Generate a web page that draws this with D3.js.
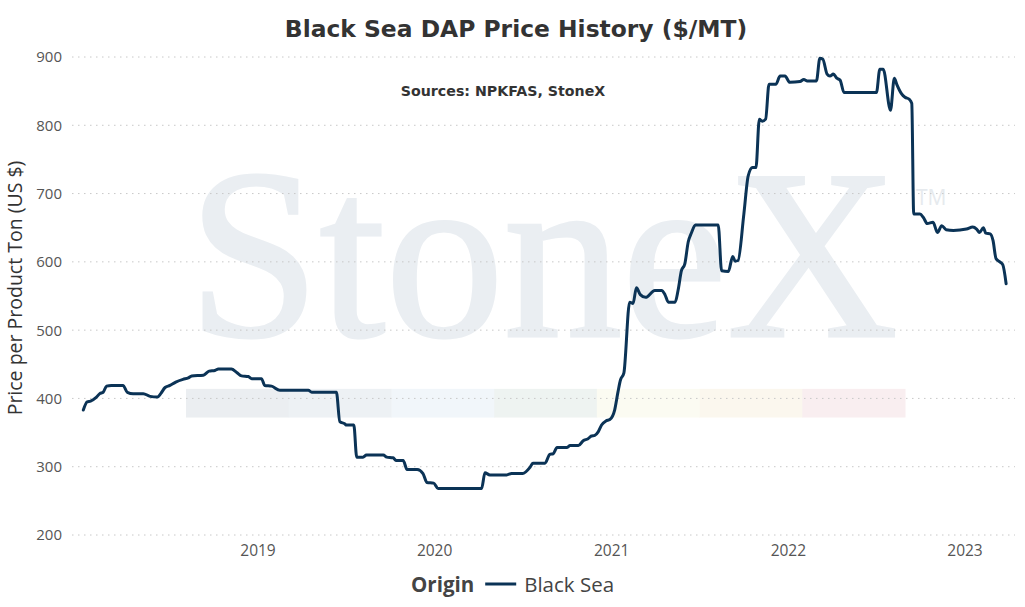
<!DOCTYPE html>
<html>
<head>
<meta charset="utf-8">
<script src="https://cdn.jsdelivr.net/npm/d3@7"></script>
<style>
  body { margin: 0; background: #fff; }
  svg { display: block; }
</style>
</head>
<body>
<svg id="chart" width="1025" height="607"></svg>
<script>
// weekly-ish Black Sea DAP prices
const dates = [
  '2018-01-05','2018-01-13','2018-01-20','2018-01-31','2018-02-08','2018-02-15','2018-02-22','2018-03-04',
  '2018-03-28','2018-04-06','2018-04-18','2018-05-09','2018-05-23','2018-06-07','2018-06-14','2018-06-23',
  '2018-07-03','2018-07-15','2018-07-30','2018-08-10','2018-08-17','2018-09-10','2018-09-22','2018-10-04',
  '2018-10-11','2018-11-07','2018-11-18','2018-11-28','2018-12-12','2018-12-19','2019-01-08','2019-01-15',
  '2019-01-29','2019-02-15','2019-04-15','2019-04-22','2019-06-12','2019-06-19','2019-06-29','2019-07-03',
  '2019-07-18','2019-07-24','2019-08-06','2019-08-13','2019-09-17','2019-09-24','2019-10-07','2019-10-14',
  '2019-10-28','2019-11-05','2019-11-26','2019-12-08','2019-12-16','2019-12-30','2020-01-08','2020-04-07',
  '2020-04-14','2020-04-24','2020-05-29','2020-06-08','2020-07-01','2020-07-16','2020-07-22','2020-08-16',
  '2020-08-26','2020-09-02','2020-09-10','2020-09-30','2020-10-07','2020-10-24','2020-11-03','2020-11-13',
  '2020-11-20','2020-11-27','2020-12-04','2020-12-11','2020-12-20','2020-12-28','2021-01-07','2021-01-14',
  '2021-01-19','2021-01-26','2021-02-07','2021-02-14','2021-02-21','2021-03-01','2021-03-12','2021-03-31',
  '2021-04-14','2021-04-21','2021-04-28','2021-05-12','2021-05-18','2021-05-25','2021-06-01','2021-06-08',
  '2021-06-15','2021-06-23','2021-08-09','2021-08-16','2021-08-30','2021-09-08','2021-09-13','2021-09-19',
  '2021-10-01','2021-10-10','2021-10-19','2021-10-26','2021-11-02','2021-11-08','2021-11-15','2021-11-22',
  '2021-12-06','2021-12-15','2021-12-25','2022-01-04','2022-01-25','2022-02-02','2022-02-09','2022-02-28',
  '2022-03-07','2022-03-13','2022-03-22','2022-03-28','2022-04-04','2022-04-11','2022-04-18','2022-04-26',
  '2022-07-02','2022-07-09','2022-07-16','2022-07-31','2022-08-08','2022-08-13','2022-08-23','2022-08-30',
  '2022-09-08','2022-09-13','2022-09-17','2022-09-30','2022-10-07','2022-10-15','2022-10-27','2022-11-05',
  '2022-11-14','2022-11-23','2022-12-08','2023-01-04','2023-01-17','2023-01-25','2023-01-31','2023-02-08',
  '2023-02-13','2023-02-22','2023-02-28','2023-03-06','2023-03-14','2023-03-20','2023-03-27'
];
const prices = [
  383, 395, 396, 401, 407, 409, 418, 419,
  419, 409, 407, 407, 403, 402, 407, 416,
  419, 424, 428, 430, 433, 434, 440, 441,
  443, 443, 438, 433, 432, 429, 429, 419,
  418, 412, 412, 409, 409, 366, 363, 361,
  361, 314, 314, 317, 317, 314, 313, 309,
  309, 296, 296, 290, 277, 276, 268, 268,
  291, 288, 288, 290, 290, 299, 305, 305,
  318, 319, 328, 328, 331, 331, 338, 341,
  345, 346, 351, 361, 367, 369, 383, 410,
  427, 437, 541, 539, 562, 552, 548, 558,
  558, 552, 541, 541, 558, 587, 597, 629,
  643, 654, 654, 587, 586, 608, 601, 602,
  670, 726, 738, 738, 809, 806, 809, 860,
  860, 872, 872, 863, 864, 867, 865, 865,
  898, 897, 875, 872, 875, 869, 866, 848,
  848, 882, 882, 822, 869, 860, 846, 841,
  838, 832, 670, 670, 665, 656, 658, 643,
  653, 647, 646, 648, 651, 648, 643, 650,
  642, 641, 631, 605, 600, 596, 568
];
const yTicks = [200, 300, 400, 500, 600, 700, 800, 900];
const xTickYears = [2019, 2020, 2021, 2022, 2023];
const seriesName = 'Black Sea';
const legendTitle = 'Origin';
const titleText = 'Black Sea DAP Price History ($/MT)';
const sourceText = 'Sources: NPKFAS, StoneX';
const yTitle = 'Price per Product Ton (US $)';
// faint logo colour bar behind the plot
const bandColors = ['#ebeef1', '#edf1f4', '#f1f6fa', '#eef3f1', '#fbfbf2', '#fbf7ee', '#f9eef0'];

const svg = d3.select('#chart');
const plot = { left: 72, right: 1015 };
const lineColor = '#0b3356';
const font = '"Open Sans", sans-serif';
const boldFont = '"DejaVu Sans", Verdana, sans-serif';

const x = d3.scaleUtc()
  .domain([new Date(Date.UTC(2019, 0, 1)), new Date(Date.UTC(2023, 0, 1))])
  .range([258, 965]);
const y = d3.scaleLinear().domain([200, 900]).range([535, 57]);

const data = dates.map((d, i) => ({ date: new Date(d + 'T00:00:00Z'), value: prices[i] }));

// watermark
const wm = svg.append('g').attr('class', 'watermark');
wm.append('text')
  .attr('x', 188).attr('y', 336)
  .attr('textLength', 710).attr('lengthAdjust', 'spacingAndGlyphs')
  .style('font-family', '"Liberation Serif", "DejaVu Serif", serif')
  .style('font-size', '242px')
  .style('fill', '#eaeef2')
  .style('stroke', '#eaeef2').style('stroke-width', 3)
  .text('StoneX');
wm.append('text')
  .attr('x', 916).attr('y', 205)
  .style('font-family', font).style('font-size', '21px')
  .style('fill', '#e6eaee')
  .text('TM');

const bandX = d3.scaleLinear().domain([0, bandColors.length]).range([186, 905]);
wm.selectAll('rect.band')
  .data(bandColors)
  .join('rect')
  .attr('class', 'band')
  .attr('x', (d, i) => bandX(i))
  .attr('width', (d, i) => bandX(i + 1) - bandX(i) + 0.5)
  .attr('y', y(414)).attr('height', y(372) - y(414))
  .attr('fill', d => d);

// grid + tick labels
svg.append('g')
  .selectAll('line')
  .data(yTicks)
  .join('line')
  .attr('x1', plot.left).attr('x2', plot.right)
  .attr('y1', d => y(d)).attr('y2', d => y(d))
  .attr('stroke', '#c8c8c8')
  .attr('stroke-width', 1)
  .attr('stroke-dasharray', '1.5,4.5');

svg.append('g')
  .selectAll('text')
  .data(yTicks)
  .join('text')
  .attr('x', 62).attr('y', d => y(d))
  .attr('dy', '0.36em')
  .attr('text-anchor', 'end')
  .style('font-family', font).style('font-size', '15px')
  .style('fill', '#555')
  .text(d => d);

svg.append('g')
  .selectAll('text')
  .data(xTickYears)
  .join('text')
  .attr('x', d => x(new Date(Date.UTC(d, 0, 1))))
  .attr('y', 556)
  .attr('text-anchor', 'middle')
  .style('font-family', font).style('font-size', '15.5px')
  .style('fill', '#555')
  .text(d => d);

// the series
const line = d3.line()
  .x(d => x(d.date))
  .y(d => y(d.value))
  .curve(d3.curveMonotoneX);

svg.append('path')
  .datum(data)
  .attr('d', line)
  .attr('fill', 'none')
  .attr('stroke', lineColor)
  .attr('stroke-width', 3)
  .attr('stroke-linejoin', 'round')
  .attr('stroke-linecap', 'round');

// titles
svg.append('text')
  .attr('x', 516).attr('y', 37)
  .attr('text-anchor', 'middle')
  .style('font-family', boldFont).style('font-size', '23.4px').style('font-weight', 'bold')
  .style('fill', '#333')
  .text(titleText);

svg.append('text')
  .attr('x', 503).attr('y', 96)
  .attr('text-anchor', 'middle')
  .style('font-family', boldFont).style('font-size', '14.2px').style('font-weight', 'bold')
  .style('fill', '#333')
  .text(sourceText);

svg.append('text')
  .attr('transform', 'translate(22,288) rotate(-90)')
  .attr('text-anchor', 'middle')
  .style('font-family', font).style('font-size', '19.5px')
  .style('fill', '#333')
  .text(yTitle);

// legend
const legend = svg.append('g').attr('transform', 'translate(411,592)');
const lt = legend.append('text')
  .style('font-family', font).style('font-size', '20.5px').style('font-weight', 'bold')
  .style('fill', '#444')
  .text(legendTitle);
const ltw = lt.node().getComputedTextLength();
legend.append('line')
  .attr('x1', ltw + 11).attr('x2', ltw + 42)
  .attr('y1', -8).attr('y2', -8)
  .attr('stroke', lineColor).attr('stroke-width', 3);
legend.append('text')
  .attr('x', ltw + 50)
  .style('font-family', font).style('font-size', '20.5px')
  .style('fill', '#444')
  .text(seriesName);
</script>
</body>
</html>
